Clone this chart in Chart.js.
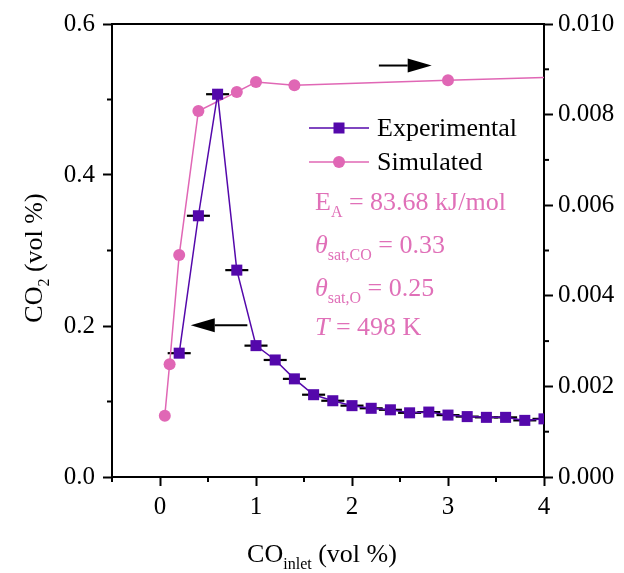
<!DOCTYPE html>
<html>
<head>
<meta charset="utf-8">
<script src="https://cdn.jsdelivr.net/npm/chart.js@4/dist/chart.umd.min.js"></script>
<style>
  html,body{margin:0;padding:0;background:#fff;}
  #wrap{width:624px;height:573px;position:relative;}
</style>
</head>
<body>
<div id="wrap"><canvas id="c" width="624" height="573"></canvas></div>
<script>
// ---- data ----
const xExp = [0.2,0.4,0.6,0.8,1.0,1.2,1.4,1.6,1.8,2.0,2.2,2.4,2.6,2.8,3.0,3.2,3.4,3.6,3.8,4.0];
const yExp = [0.164,0.346,0.507,0.274,0.174,0.155,0.130,0.109,0.101,0.0945,0.091,0.089,0.085,0.086,0.082,0.080,0.079,0.079,0.075,0.077];
const xErrExp = [0.12,0.12,0.12,0.12,0.12,0.12,0.12,0.12,0.12,0.12,0.12,0.12,0.12,0.12,0.12,0.12,0.12,0.12,0.12,0.12];
const xSim = [0.05,0.1,0.2,0.4,0.8,1.0,1.4,3.0,4.0];
const ySim = [0.00135,0.00249,0.0049,0.00808,0.0085,0.00872,0.00865,0.00876,0.00882];
const xTicks = [0,1,2,3,4];
const xMinor = [-0.5,0.5,1.5,2.5,3.5];
const yLeftTicks = [0,0.2,0.4,0.6];
const yLeftMinor = [0.1,0.3,0.5];
const yRightTicks = [0,0.002,0.004,0.006,0.008,0.010];
const yRightMinor = [0.001,0.003,0.005,0.007,0.009];
const seriesNames = ['Experimental','Simulated'];

const PURPLE = '#5408ab';
const PINK = '#e067b5';
const FONT = '"Liberation Serif", "Times New Roman", serif';
const TXT = 26;

const expData = xExp.map((x,i)=>({x:x,y:yExp[i]}));
const simData = xSim.map((x,i)=>({x:x,y:ySim[i]}));
const simRadius = xSim.map((x,i)=> i===xSim.length-1 ? 0 : 6);

function fontFor(mode,size){
  if(mode==='s') return Math.round(size*0.62)+'px '+FONT;
  if(mode==='i') return 'italic '+size+'px '+FONT;
  return size+'px '+FONT;
}
function richText(ctx, parts, x, y, size, color, align){
  const widths = parts.map(p=>{ ctx.font = fontFor(p[1], size); return ctx.measureText(p[0]).width; });
  const total = widths.reduce((a,b)=>a+b,0);
  let cx = align==='center' ? x - total/2 : x;
  ctx.fillStyle = color;
  ctx.textBaseline = 'alphabetic';
  ctx.textAlign = 'left';
  parts.forEach((p,i)=>{
    ctx.font = fontFor(p[1], size);
    const dy = p[1]==='s' ? size*0.28 : 0;
    ctx.fillText(p[0], cx, y+dy);
    cx += widths[i];
  });
}

function arrow(ctx, x1, y1, x2, y2){
  const ang = Math.atan2(y2-y1, x2-x1);
  const hl = 24, hw = 7;
  const bx = x2 - hl*Math.cos(ang), by = y2 - hl*Math.sin(ang);
  ctx.save();
  ctx.strokeStyle = '#000'; ctx.fillStyle = '#000'; ctx.lineWidth = 2;
  ctx.beginPath(); ctx.moveTo(x1,y1); ctx.lineTo(bx,by); ctx.stroke();
  ctx.beginPath();
  ctx.moveTo(x2,y2);
  ctx.lineTo(bx - hw*Math.sin(ang), by + hw*Math.cos(ang));
  ctx.lineTo(bx + hw*Math.sin(ang), by - hw*Math.cos(ang));
  ctx.closePath(); ctx.fill();
  ctx.restore();
}

const decor = {
  id:'decor',
  beforeDatasetsDraw(chart){
    const ctx = chart.ctx, xs = chart.scales.x, ys = chart.scales.yL;
    const ca = chart.chartArea;
    ctx.save();
    ctx.beginPath(); ctx.rect(ca.left, ca.top, ca.right-ca.left, ca.bottom-ca.top); ctx.clip();
    ctx.strokeStyle = '#000'; ctx.lineWidth = 2.2;
    xExp.forEach((x,i)=>{
      const y = ys.getPixelForValue(yExp[i]);
      ctx.beginPath();
      ctx.moveTo(xs.getPixelForValue(x - xErrExp[i]), y);
      ctx.lineTo(xs.getPixelForValue(x + xErrExp[i]), y);
      ctx.stroke();
    });
    ctx.restore();
  },
  afterDraw(chart){
    const ctx = chart.ctx, ca = chart.chartArea;
    const xs = chart.scales.x, yl = chart.scales.yL, yr = chart.scales.yR;
    ctx.save();
    ctx.strokeStyle = '#000'; ctx.lineWidth = 2;
    ctx.beginPath(); ctx.moveTo(ca.left-1, ca.top); ctx.lineTo(ca.right+1, ca.top); ctx.stroke();
    xMinor.forEach(v=>{ const p = xs.getPixelForValue(v); ctx.beginPath(); ctx.moveTo(p, ca.bottom); ctx.lineTo(p, ca.bottom+5); ctx.stroke(); });
    yLeftMinor.forEach(v=>{ const p = yl.getPixelForValue(v); ctx.beginPath(); ctx.moveTo(ca.left, p); ctx.lineTo(ca.left-5, p); ctx.stroke(); });
    yRightMinor.forEach(v=>{ const p = yr.getPixelForValue(v); ctx.beginPath(); ctx.moveTo(ca.right, p); ctx.lineTo(ca.right+5, p); ctx.stroke(); });

    arrow(ctx, xs.getPixelForValue(2.28), yl.getPixelForValue(0.545), xs.getPixelForValue(2.83), yl.getPixelForValue(0.545));
    arrow(ctx, xs.getPixelForValue(0.91), yl.getPixelForValue(0.201), xs.getPixelForValue(0.32), yl.getPixelForValue(0.201));

    const ds = chart.data.datasets;
    const lx1 = 309, lx2 = 369, tx = 377;
    [128,162].forEach((ly,i)=>{
      ctx.strokeStyle = ds[i].borderColor; ctx.lineWidth = 1.5;
      ctx.beginPath(); ctx.moveTo(lx1, ly); ctx.lineTo(lx2, ly); ctx.stroke();
      ctx.fillStyle = ds[i].backgroundColor;
      if(i===0){ ctx.fillRect(339-5.5, ly-5.5, 11, 11); }
      else { ctx.beginPath(); ctx.arc(339, ly, 6, 0, Math.PI*2); ctx.fill(); }
      ctx.fillStyle = '#000'; ctx.font = TXT+'px '+FONT; ctx.textBaseline='middle'; ctx.textAlign='left';
      ctx.fillText(seriesNames[i], tx, ly+1);
    });

    const pink = '#e070b8';
    richText(ctx, [['E',''],['A','s'],[' = 83.68 kJ/mol','']], 315, 210, TXT, pink, 'left');
    richText(ctx, [['θ','i'],['sat,CO','s'],[' = 0.33','']], 315, 253, TXT, pink, 'left');
    richText(ctx, [['θ','i'],['sat,O','s'],[' = 0.25','']], 315, 296, TXT, pink, 'left');
    richText(ctx, [['T','i'],[' = 498 K','']], 315, 335, TXT, pink, 'left');

    richText(ctx, [['CO',''],['inlet','s'],[' (vol %)','']], 322, 562, TXT, '#000', 'center');
    ctx.save();
    ctx.translate(42, 258); ctx.rotate(-Math.PI/2);
    richText(ctx, [['CO',''],['2','s'],[' (vol %)','']], 0, 0, TXT, '#000', 'center');
    ctx.restore();
    ctx.restore();
  }
};

const tickFont = {family: FONT, size: 25};
const gridOpts = {display:true, drawOnChartArea:false, drawTicks:true, tickLength:9, tickColor:'#000', tickWidth:2};
const borderOpts = {display:true, color:'#000', width:2};

new Chart(document.getElementById('c'), {
  type:'line',
  data:{
    datasets:[
      {label:seriesNames[0], data:expData, yAxisID:'yL', borderColor:PURPLE, backgroundColor:PURPLE,
       borderWidth:1.5, pointStyle:'rect', pointRadius:7.8, pointBorderWidth:0, tension:0},
      {label:seriesNames[1], data:simData, yAxisID:'yR', borderColor:PINK, backgroundColor:PINK,
       borderWidth:1.5, pointStyle:'circle', pointRadius:simRadius, pointBorderWidth:0, tension:0}
    ]
  },
  options:{
    responsive:false, animation:false, devicePixelRatio:1,
    layout:{padding:{top:24,left:0,right:0,bottom:0}},
    plugins:{legend:{display:false}, tooltip:{enabled:false}},
    scales:{
      x:{type:'linear', min:-0.5, max:4, position:'bottom',
         afterBuildTicks(s){ s.ticks = xTicks.map(v=>({value:v})); },
         afterFit(s){ s.height = 96; },
         ticks:{font:tickFont, color:'#000', padding:6, callback:v=>String(v), maxRotation:0, autoSkip:false},
         grid:gridOpts, border:borderOpts},
      yL:{type:'linear', position:'left', min:0, max:0.6,
         afterBuildTicks(s){ s.ticks = yLeftTicks.map(v=>({value:v})); },
         afterFit(s){ s.width = 112; },
         ticks:{font:tickFont, color:'#000', padding:8, callback:v=>v.toFixed(1), autoSkip:false},
         grid:gridOpts, border:borderOpts},
      yR:{type:'linear', position:'right', min:0, max:0.01,
         afterBuildTicks(s){ s.ticks = yRightTicks.map(v=>({value:v})); },
         afterFit(s){ s.width = 80; },
         ticks:{font:tickFont, color:'#000', padding:5, callback:v=>v.toFixed(3), autoSkip:false},
         grid:gridOpts, border:borderOpts}
    }
  },
  plugins:[decor]
});
</script>
</body>
</html>
